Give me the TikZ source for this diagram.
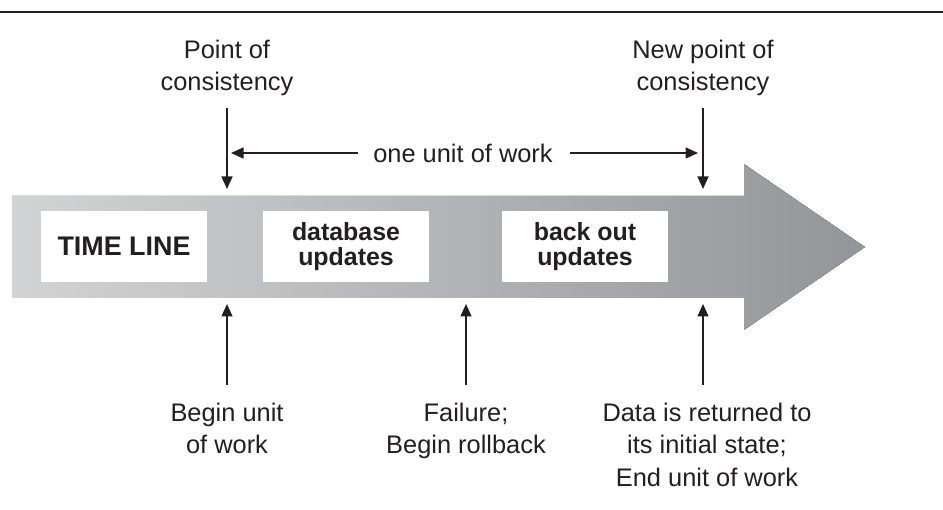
\documentclass[tikz,border=0pt]{standalone}
\usepackage{fontspec}
\setmainfont{Liberation Sans}
\usetikzlibrary{arrows.meta}
\definecolor{ink}{RGB}{35,31,32}
\definecolor{gl}{RGB}{210,211,213}
\definecolor{gr}{RGB}{148,149,153}
\begin{document}
\begin{tikzpicture}[x=1bp,y=-1bp,
  lbl/.style={font=\fontsize{25.5}{32.5}\selectfont, align=center, text=ink, inner sep=0pt, anchor=north},
  boxlbl/.style={font=\fontsize{25}{25}\selectfont\bfseries, align=center, fill=white, text=ink,
                 minimum width=166bp, minimum height=71bp, inner sep=0pt},
  arr/.style={draw=ink, line width=1.5bp, -{Triangle[length=12.5bp,width=11bp]}}]
\useasboundingbox (0,0) rectangle (943,510);
% top rule
\coordinate (rl) at (0,12);
\coordinate (rr) at (943,12);
\draw[ink, line width=1.3bp] (rl) -- (rr);
% big time-line arrow
\fill[left color=gl, right color=gr]
  (12,196) -- (744,196) -- (744,164) -- (865,247) -- (744,330) -- (744,298) -- (12,298) -- cycle;
% boxes
\node[boxlbl, font=\fontsize{27}{27}\selectfont\bfseries] (tl) at (124,246.5) {TIME LINE};
\node[boxlbl] (db) at (346,246.5) {database\\updates};
\node[boxlbl] (bo) at (585,246.5) {back out\\updates};
% top labels
\node[lbl] (pc) at (227,40) {Point of\\consistency};
\node[lbl] (npc) at (703,40) {New point of\\consistency};
\node[font=\fontsize{25.5}{32.5}\selectfont, text=ink, inner sep=0pt] (ouw) at (463,153) {one unit of work};
% bottom labels
\node[lbl] (bu) at (227,403) {Begin unit\\of work};
\node[lbl] (fl) at (466,403) {Failure;\\Begin rollback};
\node[lbl] (dr) at (707,403) {Data is returned to\\its initial state;\\End unit of work};
% arrow coordinates
\coordinate (pcA) at (227,108);  \coordinate (pcB) at (227,189);
\coordinate (npcA) at (703,108); \coordinate (npcB) at (703,189);
\coordinate (ouwL) at (231,153); \coordinate (ouwR) at (698,153);
\coordinate (buA) at (227,385);  \coordinate (buB) at (227,304);
\coordinate (flA) at (466,385);  \coordinate (flB) at (466,304);
\coordinate (drA) at (703,385);  \coordinate (drB) at (703,304);
% connectors
\draw[arr] (pcA) -- (pcB);
\draw[arr] (npcA) -- (npcB);
\draw[arr, shorten <=15bp] (ouw.west) -- (ouwL);
\draw[arr, shorten <=17bp] (ouw.east) -- (ouwR);
\draw[arr] (buA) -- (buB);
\draw[arr] (flA) -- (flB);
\draw[arr] (drA) -- (drB);
\end{tikzpicture}
\end{document}
